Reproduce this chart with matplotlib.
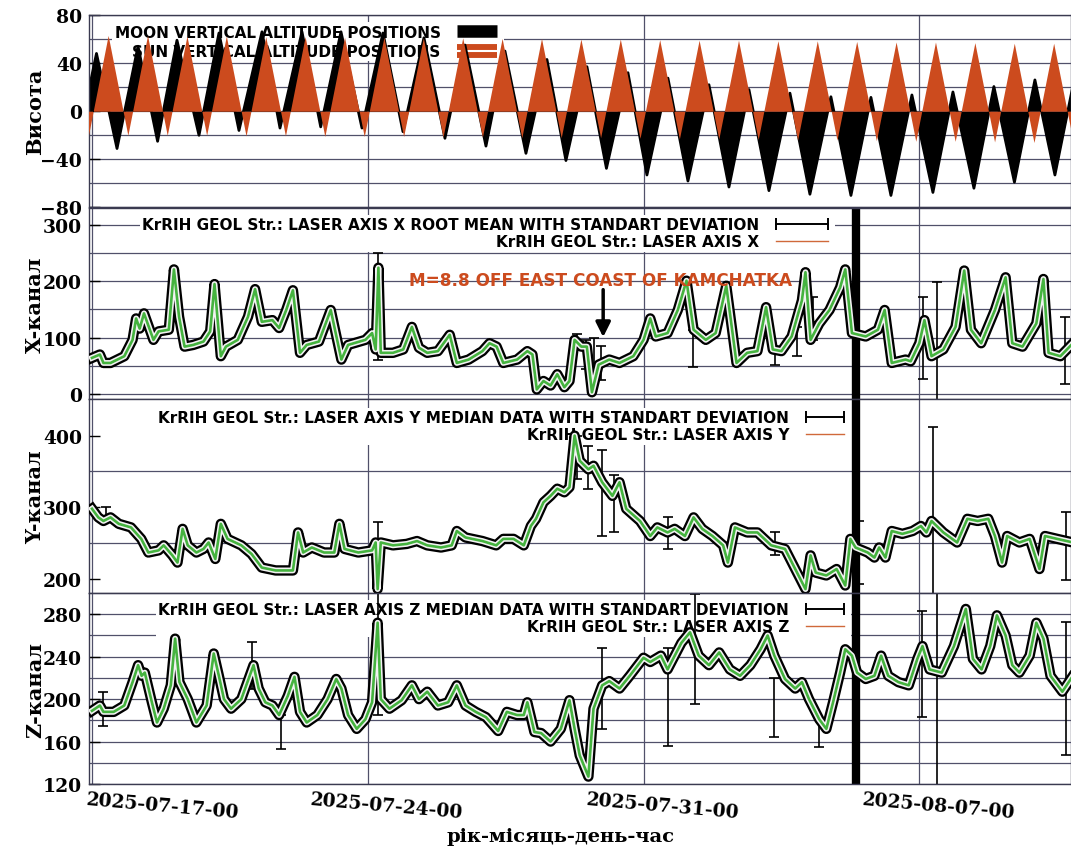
import numpy as np
import matplotlib.pyplot as plt
from matplotlib.lines import Line2D
from matplotlib.ticker import MultipleLocator, FixedLocator
import matplotlib.transforms as mtransforms

plt.rcParams['font.family'] = 'DejaVu Serif'
plt.rcParams['font.weight'] = 'bold'

# time axis: days since 2025-07-17 00:00
tick_day = [0, 7, 14, 21]
tick_lab = ['2025-07-17-00', '2025-07-24-00', '2025-07-31-00', '2025-08-07-00']

# sun altitude, daily maximum and minimum
sun_day = np.arange(25)
sun_peak = [63, 63, 62.5, 62.5, 62, 62, 61.5, 61.5, 61, 61, 60.5, 60.5, 60,
            60, 59.5, 59, 59, 58.5, 58.5, 58, 57.5, 57.5, 57, 56.5, 56.5]
sun_low = [-20, -20, -20, -20.5, -20.5, -21, -21, -21, -21.5, -21.5, -22, -22, -22,
           -22.5, -23, -23, -23.5, -24, -24, -24.5, -25, -25, -25.5, -26, -26]

# moon altitude, upper and lower culminations
moon_peak_day = [0.114, 1.168, 2.157, 3.223, 4.315, 5.330, 6.320, 7.386, 8.426, 9.467,
                 10.482, 11.548, 12.563, 13.604, 14.619, 15.660, 16.675, 17.716,
                 18.756, 19.772, 20.812, 21.853, 22.893, 23.934, 24.96]
moon_peak = [48, 54, 59, 65, 66, 66, 66, 65, 61, 55, 50, 43, 37, 32, 27.5, 22, 18,
             15, 12, 11.5, 13.5, 16, 20.5, 26, 31]
moon_low_day = [-0.41, 0.635, 1.665, 2.716, 3.731, 4.772, 5.805, 6.853, 7.893, 8.959,
                10.0, 11.015, 12.03, 13.058, 14.086, 15.127, 16.168, 17.183, 18.223,
                19.264, 20.279, 21.345, 22.386, 23.414, 24.442]
moon_low = [-34, -31, -25, -20, -16, -14, -13, -14, -17, -22.5, -29, -35, -41, -47.5,
            -53, -58, -63, -66, -69, -70, -70, -67.5, -64, -59, -53]

# laser axis X
x_day = [0.0, 0.2, 0.29, 0.47, 0.82, 1.03, 1.12, 1.21, 1.32, 1.56,
         1.69, 1.95, 2.08, 2.21, 2.35, 2.57, 2.83, 3.0, 3.11, 3.27,
         3.40, 3.70, 3.96, 4.14, 4.31, 4.58, 4.75, 4.93, 5.10, 5.28,
         5.45, 5.76, 6.06, 6.33, 6.50, 6.94, 7.11, 7.20, 7.27, 7.33,
         7.64, 7.90, 8.12, 8.30, 8.51, 8.78, 9.08, 9.26, 9.56, 9.91,
         10.09, 10.27, 10.44, 10.79, 11.05, 11.18, 11.29, 11.46, 11.64, 11.81,
         11.99, 12.12, 12.25, 12.42, 12.56, 12.69, 12.86, 13.13, 13.39, 13.74,
         14.0, 14.17, 14.31, 14.61, 14.87, 15.09, 15.27, 15.58, 15.83, 16.10,
         16.36, 16.63, 16.89, 17.11, 17.28, 17.50, 17.76, 18.02, 18.11, 18.24,
         18.46, 18.72, 18.99, 19.12, 19.29, 19.64, 19.95, 20.12, 20.30, 20.65,
         20.78, 21.0, 21.13, 21.31, 21.61, 21.92, 22.14, 22.31, 22.57, 22.92,
         23.19, 23.36, 23.62, 23.97, 24.15, 24.28, 24.58, 24.90]
x_val = [64, 70, 55, 55, 67, 96, 134, 116, 143, 96,
         111, 114, 221, 137, 84, 87, 93, 111, 195, 67,
         84, 96, 137, 186, 128, 131, 117, 149, 184, 73,
         87, 93, 149, 61, 87, 96, 108, 79, 224, 73,
         73, 79, 119, 82, 73, 76, 105, 55, 61, 76,
         90, 84, 55, 61, 76, 70, 8, 23, 15, 35,
         12, 23, 96, 84, 84, 3, 52, 61, 55, 67,
         96, 134, 102, 108, 149, 201, 114, 96, 108, 192,
         55, 73, 76, 154, 79, 76, 102, 166, 216, 96,
         125, 149, 189, 221, 108, 102, 114, 149, 55, 61,
         58, 90, 131, 67, 79, 119, 219, 114, 90, 149,
         207, 90, 84, 125, 204, 73, 67, 90]
xerr_day = [7.27, 12.30, 12.55, 12.75, 12.92, 15.25, 17.33, 17.90, 18.30, 21.09, 21.45, 24.70]
xerr_mid = [155, 95, 70, 62, 55, 80, 65, 93, 134, 99, 89, 77]
xerr_half = [95, 12, 25, 38, 30, 33, 14, 26, 38, 73, 109, 60]

# laser axis Y
y_day = [0.0, 0.16, 0.29, 0.47, 0.68, 0.99, 1.25, 1.43, 1.69, 1.82,
         2.04, 2.17, 2.30, 2.43, 2.65, 2.83, 2.96, 3.13, 3.27, 3.44,
         3.79, 4.05, 4.31, 4.66, 5.10, 5.23, 5.36, 5.58, 5.89, 6.15,
         6.28, 6.41, 6.76, 7.11, 7.20, 7.25, 7.33, 7.64, 7.99, 8.25,
         8.51, 8.86, 9.13, 9.26, 9.48, 9.91, 10.26, 10.44, 10.70, 10.96,
         11.14, 11.27, 11.46, 11.64, 11.81, 11.99, 12.12, 12.25, 12.38, 12.60,
         12.73, 12.95, 13.21, 13.39, 13.56, 13.91, 14.17, 14.35, 14.61, 14.79,
         15.05, 15.27, 15.49, 15.75, 16.02, 16.14, 16.32, 16.63, 16.89, 17.24,
         17.59, 17.85, 18.11, 18.24, 18.37, 18.64, 18.90, 19.12, 19.25, 19.38,
         19.69, 19.86, 19.98, 20.14, 20.30, 20.57, 20.83, 21.04, 21.18, 21.31,
         21.61, 21.96, 22.22, 22.48, 22.75, 22.92, 23.10, 23.23, 23.54, 23.80,
         24.05, 24.19, 24.50, 24.90]
y_val = [298, 286, 281, 286, 277, 272, 256, 237, 240, 247,
         233, 223, 270, 247, 237, 242, 251, 228, 277, 256,
         247, 235, 216, 212, 212, 265, 237, 244, 237, 237,
         277, 242, 237, 240, 251, 186, 251, 247, 249, 253,
         247, 244, 247, 267, 258, 253, 247, 256, 256, 247,
         274, 284, 307, 316, 326, 321, 328, 400, 365, 353,
         358, 335, 316, 335, 298, 281, 260, 272, 265, 270,
         260, 286, 270, 260, 247, 223, 272, 265, 265, 247,
         242, 214, 186, 233, 209, 205, 214, 191, 256, 244,
         237, 230, 244, 230, 267, 263, 267, 274, 265, 281,
         265, 251, 284, 281, 284, 260, 223, 260, 251, 256,
         214, 260, 256, 251]
yerr_day = [0.35, 7.25, 12.30, 12.60, 12.95, 13.25, 14.61, 17.33, 19.47, 21.35, 24.72]
yerr_mid = [292, 226, 370, 356, 320, 305, 264, 249, 237, 292, 246]
yerr_half = [8, 53, 30, 30, 60, 40, 22, 16, 44, 120, 48]

# laser axis Z
z_day = [0.0, 0.2, 0.29, 0.55, 0.82, 1.03, 1.17, 1.26, 1.34, 1.52,
         1.65, 1.82, 2.0, 2.11, 2.22, 2.43, 2.65, 2.91, 3.09, 3.22,
         3.35, 3.53, 3.79, 4.10, 4.23, 4.40, 4.58, 4.75, 4.97, 5.14,
         5.28, 5.45, 5.72, 5.98, 6.20, 6.33, 6.50, 6.72, 6.94, 7.11,
         7.25, 7.33, 7.55, 7.86, 8.12, 8.30, 8.51, 8.78, 9.04, 9.26,
         9.48, 9.74, 10.0, 10.31, 10.53, 10.79, 10.96, 11.05, 11.23, 11.40,
         11.64, 11.90, 12.12, 12.25, 12.38, 12.60, 12.73, 12.95, 13.13, 13.39,
         13.65, 14.0, 14.17, 14.44, 14.61, 14.96, 15.18, 15.40, 15.66, 15.92,
         16.19, 16.45, 16.71, 16.97, 17.15, 17.32, 17.59, 17.85, 18.02, 18.20,
         18.46, 18.64, 18.81, 18.99, 19.12, 19.29, 19.42, 19.64, 19.86, 20.03,
         20.21, 20.47, 20.73, 20.95, 21.08, 21.26, 21.57, 21.88, 22.18, 22.36,
         22.58, 22.80, 22.97, 23.19, 23.36, 23.54, 23.80, 23.97, 24.15, 24.33,
         24.63, 24.90]
z_val = [189, 194, 188, 188, 194, 216, 232, 222, 225, 197,
         178, 191, 213, 257, 216, 200, 178, 194, 243, 222,
         200, 191, 200, 232, 210, 197, 194, 185, 203, 221,
         188, 178, 185, 200, 219, 210, 185, 172, 181, 197,
         272, 200, 191, 199, 213, 200, 207, 194, 197, 213,
         194, 188, 183, 170, 188, 185, 185, 197, 169, 168,
         160, 172, 199, 172, 147, 127, 191, 213, 217, 210,
         222, 239, 235, 241, 228, 253, 263, 241, 232, 244,
         228, 222, 232, 247, 260, 241, 219, 210, 216, 200,
         181, 172, 197, 225, 247, 241, 225, 219, 222, 241,
         222, 216, 213, 238, 250, 228, 225, 250, 285, 238,
         228, 250, 279, 260, 232, 225, 241, 272, 257, 222,
         207, 222]
zerr_day = [0.29, 4.05, 4.80, 7.25, 12.95, 14.61, 15.31, 17.32, 18.46, 21.08, 21.45, 24.72]
zerr_mid = [191, 232, 169, 245, 210, 202, 247, 192, 168, 233, 210, 210]
zerr_half = [16, 22, 16, 60, 38, 46, 52, 28, 13, 50, 95, 63]

# huge deviation (data gap) seen on all laser channels
gap_day = 19.39
gap_mid = [160, 315, 210]
gap_half = [200, 160, 110]

quake_day = 12.975

SUN = '#cc4b1e'
GREEN = '#45b33f'
ORANGE_LINE = '#d0693a'
GRID = '#50506a'

fig = plt.figure(figsize=(10.71, 8.53), dpi=100)
pos = [[0.0831, 0.7556, 0.9169, 0.2257],
       [0.0831, 0.5311, 0.9169, 0.2239],
       [0.0831, 0.3036, 0.9169, 0.2274],
       [0.0831, 0.0797, 0.9169, 0.2239]]
axes = []
for p in pos:
    axes.append(fig.add_axes(p, sharex=axes[0] if axes else None))
ax1, ax2, ax3, ax4 = axes

for ax in axes:
    ax.set_axisbelow(True)
    for s in ax.spines.values():
        s.set_color('#3a3a50')
        s.set_linewidth(1.0)
    ax.tick_params(axis='y', which='major', direction='in', length=8, width=1,
                   labelsize=13.5, pad=5)
    ax.tick_params(axis='y', which='minor', length=0)
    ax.tick_params(axis='x', which='both', direction='in', length=0, labelbottom=False)
    ax.set_xticks(tick_day)
    ax.xaxis.grid(True, color=GRID, lw=0.9)

ax1.set_xlim(-0.076, 24.85)

# ---- sun / moon altitudes
sun_t = np.ravel(np.column_stack([sun_day + 0.41, sun_day + 0.91]))
sun_v = np.ravel(np.column_stack([sun_peak, sun_low]))
sun_t = np.concatenate([[-0.09], sun_t])
sun_v = np.concatenate([[sun_low[0]], sun_v])
moon_t = np.concatenate([moon_peak_day, moon_low_day])
moon_v = np.concatenate([moon_peak, moon_low])
order = np.argsort(moon_t)
moon_t, moon_v = moon_t[order], moon_v[order]

ax1.fill_between(moon_t, 0, moon_v, color='k', lw=0, zorder=2)
ax1.plot(moon_t, moon_v, color='k', lw=2, zorder=2)
ax1.fill_between(sun_t, 0, sun_v, color=SUN, lw=0, zorder=3)
ax1.set_ylim(-80, 80)
ax1.yaxis.set_major_locator(FixedLocator([-80, -40, 0, 40, 80]))
ax1.yaxis.set_minor_locator(MultipleLocator(20))
ax1.yaxis.grid(True, which='both', color=GRID, lw=0.9)
ax1.set_ylabel('Висота', fontsize=15, fontweight='bold')

leg_font = dict(family='DejaVu Sans', weight='bold', size=11)


def put_legend(ax, handles, labels, anchor, hl, spacing=0.15):
    leg = ax.legend(handles, labels, loc='upper right', bbox_to_anchor=anchor,
                    prop=leg_font, markerfirst=False, frameon=True, fancybox=False,
                    framealpha=1, edgecolor='none', facecolor='white', borderpad=0.15,
                    borderaxespad=0, labelspacing=spacing, handlelength=hl,
                    handletextpad=0.8, numpoints=2)
    leg.set_zorder(1.5)
    return leg


moon_h = Line2D([], [], color='k', lw=9, solid_capstyle='butt')
sun_h = (Line2D([], [], color=SUN, lw=10, solid_capstyle='butt'),
         Line2D([], [], color='white', lw=1.5))
put_legend(ax1, [moon_h, sun_h],
           ['MOON VERTICAL ALTITUDE POSITIONS', 'SUN VERTICAL ALTITUDE POSITIONS'],
           (0.4226, 0.962), 3.2, spacing=0.3)


def laser_panel(ax, day, val, eday, emid, ehalf, gmid, ghalf):
    ax.errorbar(eday, emid, yerr=ehalf, fmt='none', ecolor='k', elinewidth=1.2,
                capsize=3.5, capthick=1.2, zorder=2)
    ax.errorbar([gap_day], [gmid], yerr=[ghalf], fmt='none', ecolor='k',
                elinewidth=6, capsize=0, zorder=2)
    ax.plot(day, val, color='k', lw=7.5, solid_joinstyle='round', zorder=3)
    ax.plot(day, val, color='#f2f2f2', lw=4.2, solid_joinstyle='round', zorder=4)
    ax.plot(day, val, color=ORANGE_LINE, lw=0.6, zorder=5)
    ax.plot(day, val, color=GREEN, lw=1.9, solid_joinstyle='round', zorder=6)


err_h = Line2D([], [], color='k', lw=1.4, marker='|', ms=8, mew=1.4)
line_h = Line2D([], [], color=ORANGE_LINE, lw=1.0)

# ---- X channel
laser_panel(ax2, x_day, x_val, xerr_day, xerr_mid, xerr_half, gap_mid[0], gap_half[0])
ax2.set_ylim(-8.9, 330)
ax2.yaxis.set_major_locator(FixedLocator([0, 100, 200, 300]))
ax2.yaxis.set_minor_locator(MultipleLocator(50))
ax2.yaxis.grid(True, which='both', color=GRID, lw=0.9)
ax2.set_ylabel('X-канал', fontsize=15, fontweight='bold')
put_legend(ax2, [err_h, line_h],
           ['KrRIH GEOL Str.: LASER AXIS X ROOT MEAN WITH STANDART DEVIATION',
            'KrRIH GEOL Str.: LASER AXIS X'], (0.7597, 0.965), 4.0)
ax2.text(12.92, 203, 'M=8.8 OFF EAST COAST OF KAMCHATKA', color=SUN,
         fontfamily='DejaVu Sans', fontweight='bold', fontsize=12.2,
         ha='center', va='center', zorder=7)
ax2.annotate('', xy=(quake_day, 96), xytext=(quake_day, 190),
             arrowprops=dict(arrowstyle='-|>', color='k', lw=2.5, mutation_scale=22),
             zorder=7)

# ---- Y channel
laser_panel(ax3, y_day, y_val, yerr_day, yerr_mid, yerr_half, gap_mid[1], gap_half[1])
ax3.set_ylim(180.5, 451)
ax3.yaxis.set_major_locator(FixedLocator([200, 300, 400]))
ax3.yaxis.set_minor_locator(FixedLocator([200, 250, 350, 400]))
ax3.yaxis.grid(True, which='minor', color=GRID, lw=0.9)
ax3.set_ylabel('Y-канал', fontsize=15, fontweight='bold')
put_legend(ax3, [err_h, line_h],
           ['KrRIH GEOL Str.: LASER AXIS Y MEDIAN DATA WITH STANDART DEVIATION',
            'KrRIH GEOL Str.: LASER AXIS Y'], (0.776, 0.955), 3.1)

# ---- Z channel
laser_panel(ax4, z_day, z_val, zerr_day, zerr_mid, zerr_half, gap_mid[2], gap_half[2])
ax4.set_ylim(120, 300)
ax4.yaxis.set_major_locator(FixedLocator([120, 160, 200, 240, 280]))
ax4.yaxis.set_minor_locator(MultipleLocator(20))
ax4.yaxis.grid(True, which='both', color=GRID, lw=0.9)
ax4.set_ylabel('Z-канал', fontsize=15, fontweight='bold')
put_legend(ax4, [err_h, line_h],
           ['KrRIH GEOL Str.: LASER AXIS Z MEDIAN DATA WITH STANDART DEVIATION',
            'KrRIH GEOL Str.: LASER AXIS Z'], (0.776, 0.965), 3.1)

for ax in axes:
    ax.yaxis.set_label_coords(-0.045, 0.5)

ax4.tick_params(axis='x', labelbottom=True, pad=4, labelsize=13.5)
ax4.set_xticklabels(tick_lab, rotation=-5)
for i, lab in enumerate(ax4.get_xticklabels()):
    if i == 0:
        lab.set_ha('left')
        dx = -7 / 100
    else:
        lab.set_ha('center')
        dx = 19 / 100
    lab.set_transform(lab.get_transform() +
                      mtransforms.ScaledTranslation(dx, 0, fig.dpi_scale_trans))

ax4.set_xlabel('рік-місяць-день-час', fontsize=14, fontweight='bold')
ax4.xaxis.set_label_coords(0.48, -0.225)

fig.savefig('out.png', dpi=100)
